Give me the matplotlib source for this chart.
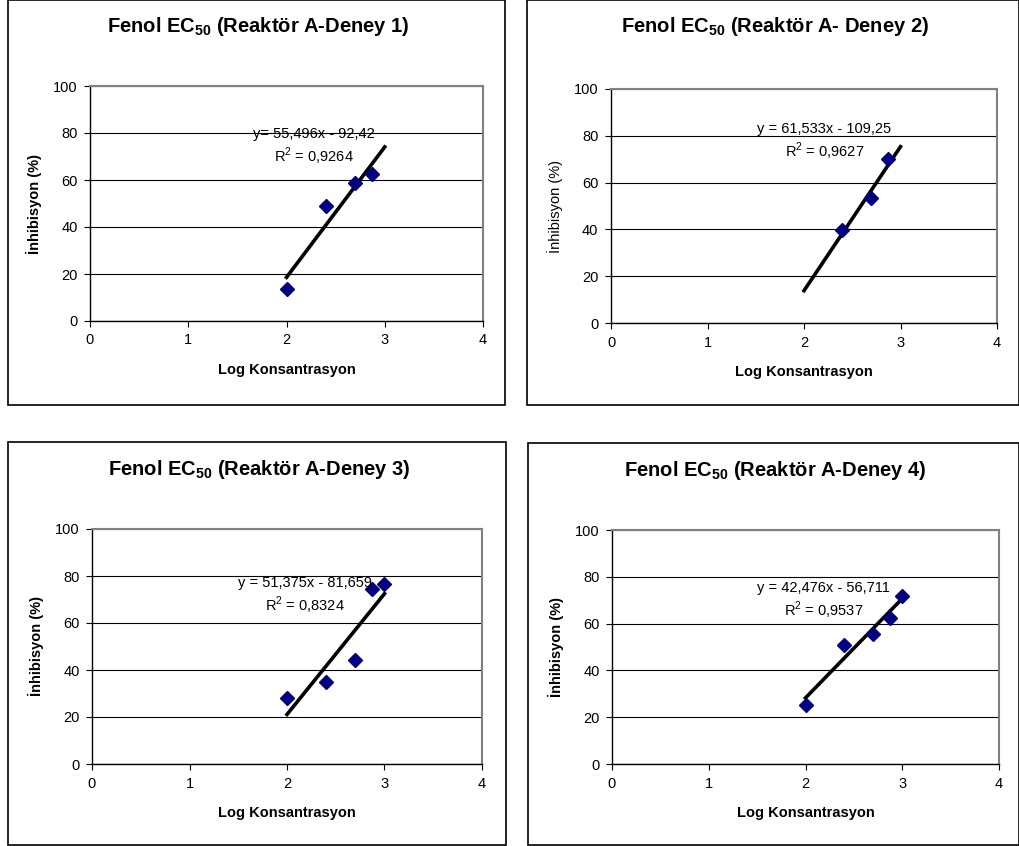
import matplotlib
matplotlib.use("Agg")
import matplotlib.pyplot as plt
from matplotlib.patches import Rectangle

plt.rcParams["font.family"] = ["Liberation Sans", "DejaVu Sans"]
plt.rcParams["mathtext.fontset"] = "custom"
plt.rcParams["mathtext.rm"] = "Liberation Sans"
plt.rcParams["mathtext.bf"] = "Liberation Sans:bold"

W, H = 1019, 846

# veriler (log konsantrasyon, inhibisyon %)
x1 = [2.0, 2.398, 2.699, 2.875]
y1 = [13.5, 49.0, 58.8, 62.5]
x2 = [2.398, 2.699, 2.875]
y2 = [39.8, 53.3, 70.2]
x3 = [2.0, 2.398, 2.699, 2.875, 3.0]
y3 = [27.9, 34.8, 44.3, 74.4, 76.7]
x4 = [2.0, 2.398, 2.699, 2.875, 3.0]
y4 = [25.4, 50.9, 55.4, 62.5, 71.9]

# trend denklemleri (egim, kesisim, R2)
egimler = [55.496, 61.533, 51.375, 42.476]
kesisimler = [-92.42, -109.25, -81.659, -56.711]
r2_degerleri = ["0,9264", "0,9627", "0,8324", "0,9537"]
denklem_metinleri = ["y= 55,496x - 92,42", "y = 61,533x - 109,25",
                     "y = 51,375x - 81,659", "y = 42,476x - 56,711"]
basliklar = [r"Fenol EC$_{\mathbf{50}}$ (Reaktör A-Deney 1)",
             r"Fenol EC$_{\mathbf{50}}$ (Reaktör A- Deney 2)",
             r"Fenol EC$_{\mathbf{50}}$ (Reaktör A-Deney 3)",
             r"Fenol EC$_{\mathbf{50}}$ (Reaktör A-Deney 4)"]
y_bold = [True, False, True, True]

# piksel konumlari: kutu (sol, ust, sag, alt), eksen (sol, ust, sag, alt)
kutular = [(8, 0, 505, 405), (527, 0, 1019, 405),
           (8, 442, 506, 845), (528, 443, 1019, 845)]
eksenler = [(90, 86, 483, 321), (611, 89, 997, 323),
            (92, 529, 482, 764), (612, 530, 999, 764)]
denklem_yer = [(2.28, 79.6), (2.21, 82.8), (2.18, 76.9), (2.19, 75.4)]

fig = plt.figure(figsize=(W / 100, H / 100), dpi=100)

veriler = [(x1, y1), (x2, y2), (x3, y3), (x4, y4)]
for i in range(4):
    l, t, r, b = kutular[i]
    fig.patches.append(Rectangle((l / W, 1 - b / H), (r - l) / W, (b - t) / H,
                                 transform=fig.transFigure, fill=False,
                                 edgecolor="black", linewidth=1.2))
    al, at, ar, ab = eksenler[i]
    ax = fig.add_axes([al / W, 1 - ab / H, (ar - al) / W, (ab - at) / H])
    xs, ys = veriler[i]

    ax.set_xlim(0, 4)
    ax.set_ylim(0, 100)
    ax.set_xticks([0, 1, 2, 3, 4])
    ax.set_yticks([0, 20, 40, 60, 80, 100])
    ax.grid(axis="y", color="black", linewidth=0.8)
    ax.set_axisbelow(True)
    for s in ["top", "right"]:
        ax.spines[s].set_color("#808080")
        ax.spines[s].set_linewidth(1.5)
    for s in ["left", "bottom"]:
        ax.spines[s].set_color("black")
        ax.spines[s].set_linewidth(1.0)
    ax.tick_params(direction="out", length=4, width=0.8, labelsize=10.5, pad=5)

    tx = [2, 3]
    ty = [egimler[i] * v + kesisimler[i] for v in tx]
    ax.plot(tx, ty, color="black", linewidth=2.6, zorder=3)
    ax.plot(xs, ys, linestyle="none", marker="D", markersize=7.5,
            color="#000080", zorder=4, clip_on=False)

    ex, ey = denklem_yer[i]
    ax.text(ex, ey, denklem_metinleri[i], fontsize=10.5, ha="center", va="center",
            zorder=5)
    ax.text(ex, ey - 9.6, "R$^2$ = " + r2_degerleri[i], fontsize=10.5,
            ha="center", va="center", zorder=5)

    ax.set_xlabel("Log Konsantrasyon", fontsize=10.5, fontweight="bold", labelpad=11)
    ax.set_ylabel("İnhibisyon (%)", fontsize=10.5,
                  fontweight="bold" if y_bold[i] else "normal", labelpad=8)

    fig.text(((l + r) / 2 + 2) / W, 1 - (t + 27) / H, basliklar[i],
             fontsize=14.5, fontweight="bold", ha="center", va="center")

fig.savefig("out.png", dpi=100)
plt.close(fig)
